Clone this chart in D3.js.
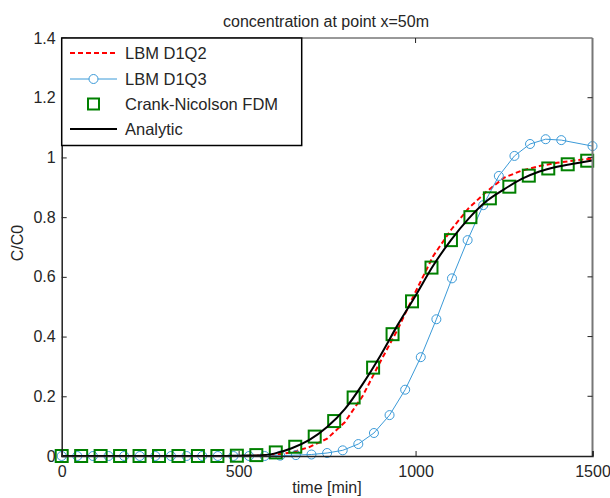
<!DOCTYPE html>
<html>
<head>
<meta charset="utf-8">
<script src="https://cdn.jsdelivr.net/npm/d3@7"></script>
<style>
  html, body { margin: 0; padding: 0; background: #fff; }
  svg { display: block; font-family: "Liberation Sans", Arial, sans-serif; }
</style>
</head>
<body>
<svg id="chart" width="610" height="498"></svg>
<script>
// Breakthrough curve at x = 50 m: relative concentration C/C0 over time.

// Analytic solution, sampled every 50 min
const analyticTime = [0, 50, 100, 150, 200, 250, 300, 350, 400, 450, 500, 550, 600, 650, 700, 750, 800, 850, 900, 950, 1000, 1050, 1100, 1150, 1200, 1250, 1300, 1350, 1400, 1450, 1500];
const analyticValue = [0, 0, 0, 0, 0, 0, 0, 0, 0, 0, 0.001, 0.002, 0.008, 0.026, 0.054, 0.097, 0.157, 0.24, 0.335, 0.44, 0.537, 0.638, 0.723, 0.795, 0.853, 0.893, 0.928, 0.953, 0.969, 0.98, 0.99];

// LBM D1Q2 result
const d1q2Time = [0, 100, 200, 300, 400, 500, 550, 600, 650, 700, 750, 800, 850, 900, 950, 1000, 1050, 1100, 1150, 1200, 1250, 1300, 1350, 1400, 1450, 1500];
const d1q2Value = [0, 0, 0, 0, 0, 0, 0.001, 0.004, 0.012, 0.03, 0.058, 0.113, 0.2, 0.315, 0.425, 0.55, 0.67, 0.757, 0.83, 0.885, 0.932, 0.956, 0.971, 0.982, 0.99, 0.996];

// LBM D1Q3 result
const d1q3Time = [0, 44.1, 88.2, 132.4, 176.5, 220.6, 264.7, 308.8, 352.9, 397.1, 441.2, 485.3, 529.4, 573.5, 617.6, 661.8, 705.9, 750, 794.1, 838.2, 882.4, 926.5, 970.6, 1014.7, 1058.8, 1102.9, 1147.1, 1191.2, 1235.3, 1279.4, 1323.5, 1367.6, 1411.8, 1500];
const d1q3Value = [0, 0, 0, 0, 0, 0, 0, 0, 0, 0, 0, 0, 0, 0, 0.001, 0.003, 0.005, 0.01, 0.019, 0.04, 0.077, 0.137, 0.222, 0.331, 0.458, 0.595, 0.723, 0.84, 0.938, 1.005, 1.045, 1.061, 1.058, 1.038];

// Crank-Nicolson FDM result
const fdmTime = [0, 55, 110, 165, 220, 275, 330, 385, 440, 495, 550, 605, 660, 715, 770, 825, 880, 935, 990, 1045, 1100, 1155, 1210, 1265, 1320, 1375, 1430, 1485];
const fdmValue = [0, 0, 0, 0, 0, 0, 0, 0, 0, 0.001, 0.003, 0.012, 0.031, 0.065, 0.117, 0.196, 0.296, 0.408, 0.518, 0.631, 0.723, 0.8, 0.863, 0.902, 0.939, 0.963, 0.977, 0.989];

const xTicks = [0, 500, 1000, 1500];
const yTicks = [0, 0.2, 0.4, 0.6, 0.8, 1, 1.2, 1.4];
const legendLabels = ["LBM D1Q2", "LBM D1Q3", "Crank-Nicolson FDM", "Analytic"];

const svg = d3.select("#chart");
const plotLeft = 61.7, plotRight = 592.5, plotTop = 38, plotBottom = 456;

const x = d3.scaleLinear().domain([0, 1500]).range([plotLeft, plotRight]);
const y = d3.scaleLinear().domain([0, 1.4]).range([plotBottom, plotTop]);

const textColor = "#262626";
const fontFamily = "Liberation Sans, Arial, sans-serif";

// Title
svg.append("text")
  .attr("x", 326).attr("y", 26.5)
  .attr("text-anchor", "middle")
  .attr("font-size", 16).attr("fill", textColor)
  .text("concentration at point x=50m");

// Clip region for the data
svg.append("clipPath").attr("id", "plotClip")
  .append("rect").attr("x", plotLeft - 8).attr("y", plotTop - 8)
  .attr("width", plotRight - plotLeft + 16).attr("height", plotBottom - plotTop + 16);

const plot = svg.append("g").attr("clip-path", "url(#plotClip)");

const line = d3.line().x(d => x(d[0])).y(d => y(d[1]));
const smooth = d3.line().x(d => x(d[0])).y(d => y(d[1])).curve(d3.curveMonotoneX);

const zip = (a, b) => a.map((t, i) => [t, b[i]]);

const blue = "#3b9ad8";
const red = "#ff0000";
const green = "#008000";

// LBM D1Q2: red dashed
plot.append("path")
  .datum(zip(d1q2Time, d1q2Value))
  .attr("d", line)
  .attr("fill", "none").attr("stroke", red)
  .attr("stroke-width", 2).attr("stroke-dasharray", "5,3");

// LBM D1Q3: blue line with open circles
const q3 = zip(d1q3Time, d1q3Value);
plot.append("path")
  .datum(q3)
  .attr("d", line)
  .attr("fill", "none").attr("stroke", blue).attr("stroke-width", 1);
plot.selectAll("circle.q3").data(q3).enter().append("circle")
  .attr("class", "q3")
  .attr("cx", d => x(d[0])).attr("cy", d => y(d[1])).attr("r", 4.5)
  .attr("fill", "none").attr("stroke", blue).attr("stroke-width", 1);

// Crank-Nicolson FDM: open green squares
const fdm = zip(fdmTime, fdmValue);
const sq = 12;
plot.selectAll("rect.fdm").data(fdm).enter().append("rect")
  .attr("class", "fdm")
  .attr("x", d => x(d[0]) - sq / 2).attr("y", d => y(d[1]) - sq / 2)
  .attr("width", sq).attr("height", sq)
  .attr("fill", "none").attr("stroke", green).attr("stroke-width", 2);

// Analytic: black solid
plot.append("path")
  .datum(zip(analyticTime, analyticValue))
  .attr("d", smooth)
  .attr("fill", "none").attr("stroke", "#000").attr("stroke-width", 2);

// Axes frame
const frame = svg.append("g");
frame.append("line").attr("x1", plotLeft).attr("x2", plotRight).attr("y1", plotTop).attr("y2", plotTop)
  .attr("stroke", "#333").attr("stroke-width", 1);
frame.append("line").attr("x1", plotRight).attr("x2", plotRight).attr("y1", plotTop).attr("y2", plotBottom)
  .attr("stroke", "#777").attr("stroke-width", 2);

// Bottom axis (ticks pointing inward)
const xAxis = d3.axisBottom(x).tickValues(xTicks).tickSize(-5).tickPadding(10)
  .tickFormat(d3.format("d"));
const gx = svg.append("g").attr("transform", `translate(0,${plotBottom})`).call(xAxis);
gx.select(".domain").attr("stroke", "#222").attr("stroke-width", 1.5);
gx.selectAll(".tick line").attr("stroke", "#222");
gx.selectAll(".tick text").attr("font-size", 16).attr("fill", textColor)
  .attr("font-family", fontFamily);

// Top tick marks
svg.append("g").selectAll("line").data(xTicks.slice(1, -1)).enter().append("line")
  .attr("x1", d => x(d)).attr("x2", d => x(d)).attr("y1", plotTop).attr("y2", plotTop + 5)
  .attr("stroke", "#222");

// Left axis
const yAxis = d3.axisLeft(y).tickValues(yTicks).tickSize(-5).tickPadding(6)
  .tickFormat(d => d3.format("~g")(d));
const gy = svg.append("g").attr("transform", `translate(${plotLeft},0)`).call(yAxis);
gy.select(".domain").attr("stroke", "#222").attr("stroke-width", 1.5);
gy.selectAll(".tick line").attr("stroke", "#222");
gy.selectAll(".tick text").attr("font-size", 16).attr("fill", textColor)
  .attr("font-family", fontFamily);

// Right tick marks
svg.append("g").selectAll("line").data(yTicks.slice(1, -1)).enter().append("line")
  .attr("x1", plotRight - 5).attr("x2", plotRight).attr("y1", d => y(d)).attr("y2", d => y(d))
  .attr("stroke", "#222");

// Axis labels
svg.append("text")
  .attr("x", 327).attr("y", 493)
  .attr("text-anchor", "middle").attr("font-size", 16).attr("fill", textColor)
  .text("time [min]");
svg.append("text")
  .attr("transform", `translate(23,243) rotate(-90)`)
  .attr("text-anchor", "middle").attr("font-size", 16).attr("fill", textColor)
  .text("C/C0");

// Legend
const lg = svg.append("g");
lg.append("rect").attr("x", plotLeft).attr("y", plotTop).attr("width", 240).attr("height", 107.5)
  .attr("fill", "#fff").attr("stroke", "#000").attr("stroke-width", 1.5);
const rowY = [53, 79, 104, 129];
const sx0 = 70, sx1 = 117, sxm = 93.5, tx = 125;
legendLabels.forEach((label, i) => {
  const yy = rowY[i];
  if (i === 0) {
    lg.append("line").attr("x1", sx0).attr("x2", sx1).attr("y1", yy).attr("y2", yy)
      .attr("stroke", red).attr("stroke-width", 2).attr("stroke-dasharray", "5,3");
  } else if (i === 1) {
    lg.append("line").attr("x1", sx0).attr("x2", sx1).attr("y1", yy).attr("y2", yy)
      .attr("stroke", blue).attr("stroke-width", 1);
    lg.append("circle").attr("cx", sxm).attr("cy", yy).attr("r", 4.5)
      .attr("fill", "#fff").attr("stroke", blue).attr("stroke-width", 1);
  } else if (i === 2) {
    lg.append("rect").attr("x", sxm - 5.5).attr("y", yy - 5.5).attr("width", 11).attr("height", 11)
      .attr("fill", "none").attr("stroke", green).attr("stroke-width", 2);
  } else {
    lg.append("line").attr("x1", sx0).attr("x2", sx1).attr("y1", yy).attr("y2", yy)
      .attr("stroke", "#000").attr("stroke-width", 2);
  }
  lg.append("text").attr("x", tx).attr("y", yy + 6)
    .attr("font-size", 16.5).attr("fill", textColor).text(label);
});
</script>
</body>
</html>
